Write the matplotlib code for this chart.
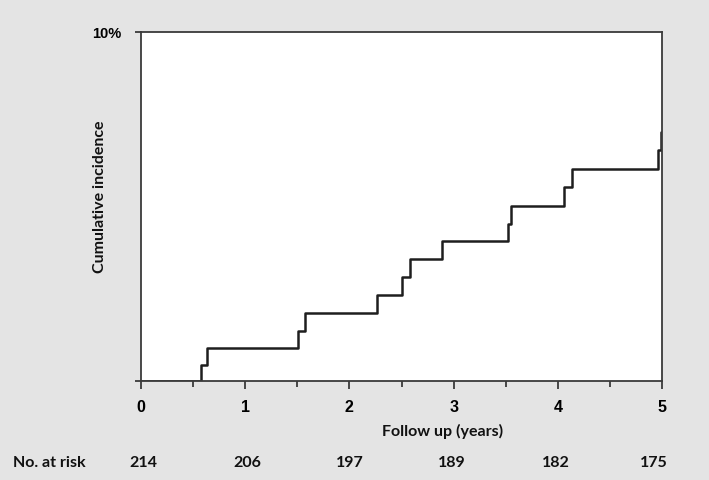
import numpy as np
import matplotlib.pyplot as plt

# step data (years, cumulative incidence in %)
times = [0, 0.576, 0.633, 1.507, 1.574, 2.265, 2.508, 2.582, 2.892,
         3.525, 3.551, 4.060, 4.139, 4.965, 4.990, 5.0]
incidence = [0, 0.46, 0.95, 1.43, 1.95, 2.46, 2.97, 3.49, 4.00,
             4.50, 5.02, 5.55, 6.07, 6.62, 7.13, 7.13]

x_ticks = [0, 1, 2, 3, 4, 5]
at_risk = [214, 206, 197, 189, 182, 175]
at_risk_x = [143, 247, 350, 452, 556, 654]  # pixel centres of the risk numbers

W, H = 709, 481
bg = '#e4e4e4'

fig = plt.figure(figsize=(W / 100, H / 100), dpi=100, facecolor=bg)
ax = fig.add_axes([141 / W, 1 - 382 / H, 521 / W, 349 / H])
ax.set_facecolor('white')

ax.step(times, incidence, where='post', color='#1e1e1e', lw=1.8, clip_on=True)

ax.set_xlim(0, 5)
ax.set_ylim(0, 10)

for s in ax.spines.values():
    s.set_color('#3a3a3a')
    s.set_linewidth(1.3)

ax.set_xticks(x_ticks)
ax.set_xticks(np.arange(0.5, 5, 1), minor=True)
ax.set_yticks([0, 10])
ax.set_yticklabels(['', '10%'])

ax.tick_params(axis='x', which='major', direction='out', length=6, width=1.3,
               color='#3a3a3a', pad=7)
ax.tick_params(axis='x', which='minor', direction='out', length=4, width=1.3,
               color='#3a3a3a')
ax.tick_params(axis='y', direction='out', length=4, width=1.3,
               color='#3a3a3a', pad=10)
for lab in ax.get_xticklabels():
    lab.set_fontproperties(dict(family='Liberation Sans', weight='bold', size=11.5))
for lab in ax.get_yticklabels():
    lab.set_fontproperties(dict(family='Liberation Sans', weight='bold', size=10.5))

lab_font = dict(family=['Lato', 'DejaVu Sans'], weight='bold', size=11.5,
                color='#111111')
fig.text(100 / W, 1 - 197 / H, 'Cumulative incidence', rotation=90,
         ha='center', va='center', **lab_font)
fig.text(443 / W, 1 - 431 / H, 'Follow up (years)', ha='center', va='center',
         **lab_font)
fig.text(13 / W, 1 - 463 / H, 'No. at risk', ha='left', va='center', **lab_font)
for px, n in zip(at_risk_x, at_risk):
    fig.text(px / W, 1 - 463 / H, str(n), ha='center', va='center', **lab_font)

fig.savefig('out.png', dpi=100, facecolor=bg)
